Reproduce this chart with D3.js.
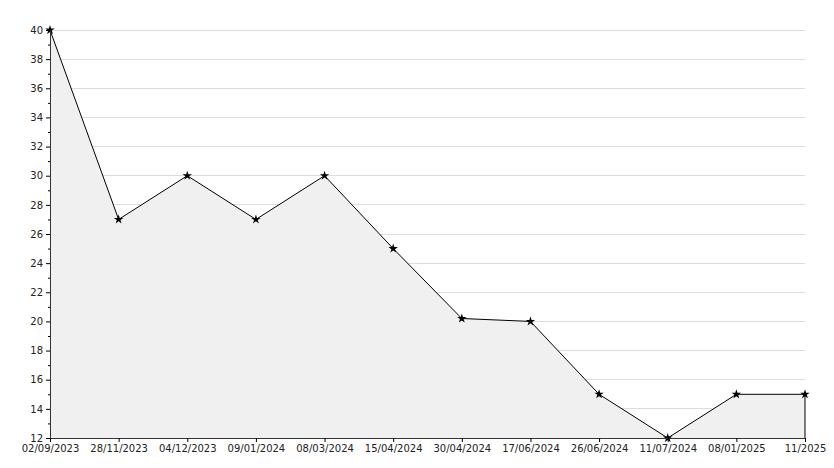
<!DOCTYPE html>
<html><head><meta charset="utf-8">
<script src="https://cdn.jsdelivr.net/npm/d3@7"></script>
<style>body{margin:0;background:#fff}text{font-family:"DejaVu Sans",sans-serif;font-size:10px;fill:#222}</style>
</head><body><div id="chart"></div>
<script>
const dates = ['02/09/2023','28/11/2023','04/12/2023','09/01/2024','08/03/2024','15/04/2024','30/04/2024','17/06/2024','26/06/2024','11/07/2024','08/01/2025','11/2025'];
const values = [40, 27, 30, 27, 30, 25, 20.2, 20, 15, 12, 15, 15];
const yTicks = d3.range(12, 41, 2);

const margin = {top: 30, right: 29, bottom: 30, left: 50};
const W = 834, H = 468;
const w = W - margin.left - margin.right, h = H - margin.top - margin.bottom;

const svg = d3.select('#chart').append('svg').attr('width', W).attr('height', H);
const g = svg.append('g').attr('transform', `translate(${margin.left},${margin.top})`);

const x = d3.scalePoint().domain(dates).range([0, w]);
const y = d3.scaleLinear().domain([12, 40]).range([h, 0]);

// grid
g.selectAll('.grid').data(yTicks).join('line')
  .attr('x1', 0).attr('x2', w).attr('y1', d => y(d)).attr('y2', d => y(d))
  .attr('stroke', '#dddddd').attr('shape-rendering', 'crispEdges');

const pts = dates.map((d, i) => ({d, v: values[i]}));
g.append('path').datum(pts)
  .attr('d', d3.area().x(p => x(p.d)).y0(h).y1(p => y(p.v)))
  .attr('fill', '#f0f0f0');
g.append('path').datum(pts)
  .attr('d', d3.line().x(p => x(p.d)).y(p => y(p.v)))
  .attr('fill', 'none').attr('stroke', '#000').attr('stroke-width', 1);
g.append('line').attr('x1', w).attr('x2', w).attr('y1', y(15)).attr('y2', h).attr('stroke', '#000');

g.selectAll('.pt').data(pts).join('path')
  .attr('transform', p => `translate(${x(p.d)},${y(p.v)})`)
  .attr('d', d3.symbol(d3.symbolStar, 28)).attr('fill', '#000');

const ax = g.append('g').call(d3.axisLeft(y).tickValues(yTicks).tickSize(4).tickFormat(d3.format('d')));
ax.select('.domain').attr('stroke', '#333');
g.append('g').call(d3.axisLeft(y).tickValues(d3.range(13, 40, 2)).tickSize(2).tickFormat(''))
  .select('.domain').remove();
const bx = g.append('g').attr('transform', `translate(0,${h})`)
  .call(d3.axisBottom(x).tickSize(4).tickPadding(3));
bx.select('.domain').attr('stroke', '#333');
svg.selectAll('.tick text').style('font-size', '10px');
</script></body></html>
